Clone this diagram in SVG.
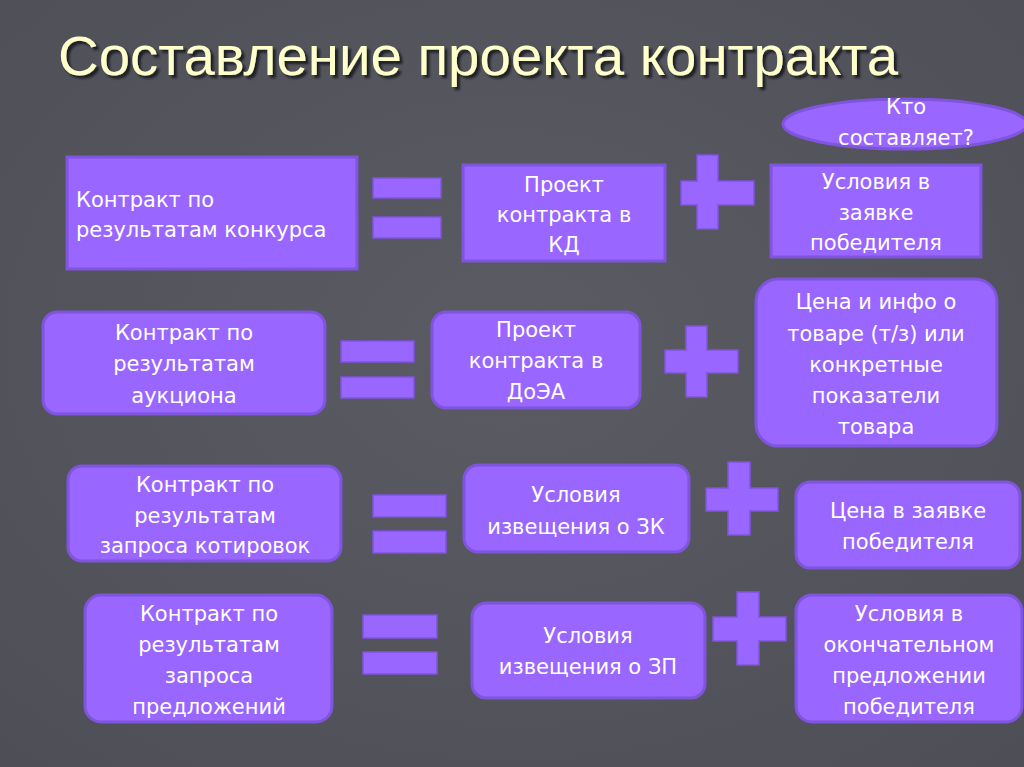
<svg xmlns="http://www.w3.org/2000/svg" width="1024" height="767" viewBox="0 0 1024 767">
<defs>
<style>
.box{fill:#9966ff;stroke:#7f55dd;stroke-width:3}
.bar{fill:#9966ff;stroke:#7f55dd;stroke-width:1.5}
.t{font-family:"DejaVu Sans","Liberation Sans",sans-serif;font-size:21px;fill:#ffffff;text-anchor:middle}
.tl{text-anchor:start}
.title{font-family:"Liberation Sans","DejaVu Sans",sans-serif;font-size:55px;fill:#ffffcc}
</style>
<filter id="sh" x="-5%" y="-30%" width="110%" height="160%">
<feDropShadow dx="3" dy="3" stdDeviation="1.2" flood-color="#15151a" flood-opacity="0.9"/>
</filter>
<radialGradient id="bgg" cx="50%" cy="45%" r="75%">
<stop offset="0" stop-color="#5a5b63"/>
<stop offset="1" stop-color="#4d4e56"/>
</radialGradient>
</defs>
<rect width="1024" height="767" fill="url(#bgg)"/>
<g id="title">
<text class="title" x="58" y="75" textLength="840" lengthAdjust="spacingAndGlyphs" filter="url(#sh)">Составление проекта контракта</text>
</g>
<g id="connectors">
<g id="eq1"><rect class="bar" x="373" y="178" width="68" height="20"/><rect class="bar" x="373" y="217" width="68" height="21"/></g>
<g id="plus1"><rect class="bar" x="681" y="181" width="73" height="24"/><rect class="bar" x="697" y="155" width="21" height="74"/><rect x="682" y="182" width="71" height="22" fill="#9966ff"/></g>
<g id="eq2"><rect class="bar" x="341" y="341" width="73" height="21"/><rect class="bar" x="341" y="377" width="73" height="21"/></g>
<g id="plus2"><rect class="bar" x="665" y="350" width="73" height="23"/><rect class="bar" x="686" y="326" width="21" height="71"/><rect x="666" y="351" width="71" height="21" fill="#9966ff"/></g>
<g id="eq3"><rect class="bar" x="373" y="495" width="73" height="22"/><rect class="bar" x="373" y="531" width="73" height="22"/></g>
<g id="plus3"><rect class="bar" x="706" y="488" width="72" height="23"/><rect class="bar" x="728" y="462" width="22" height="73"/><rect x="707" y="489" width="70" height="21" fill="#9966ff"/></g>
<g id="eq4"><rect class="bar" x="363" y="615" width="74" height="23"/><rect class="bar" x="363" y="652" width="74" height="22"/></g>
<g id="plus4"><rect class="bar" x="713" y="617" width="73" height="24"/><rect class="bar" x="737" y="592" width="22" height="73"/><rect x="714" y="618" width="71" height="22" fill="#9966ff"/></g>
</g>
<g id="oval">
<ellipse cx="905" cy="124" rx="122" ry="25" fill="#9966ff" stroke="#7f55dd" stroke-width="3"/>
<text class="t" x="906" y="114">Кто</text>
<text class="t" x="906" y="145">составляет?</text>
</g>
<g id="a1"><rect class="box" x="67" y="157" width="290" height="112"/>
<text class="t tl" x="76" y="207">Контракт по</text>
<text class="t tl" x="76" y="237">результатам конкурса</text></g>
<g id="b1"><rect class="box" x="463" y="165" width="202" height="96"/>
<text class="t" x="564" y="192">Проект</text>
<text class="t" x="564" y="222">контракта в</text>
<text class="t" x="564" y="252">КД</text></g>
<g id="c1"><rect class="box" x="771" y="165" width="210" height="92"/>
<text class="t" x="876" y="189">Условия в</text>
<text class="t" x="876" y="220">заявке</text>
<text class="t" x="876" y="250">победителя</text></g>
<g id="a2"><rect class="box" x="43" y="312" width="282" height="102" rx="14"/>
<text class="t" x="184" y="340">Контракт по</text>
<text class="t" x="184" y="371">результатам</text>
<text class="t" x="184" y="403">аукциона</text></g>
<g id="b2"><rect class="box" x="432" y="312" width="208" height="96" rx="14"/>
<text class="t" x="536" y="337">Проект</text>
<text class="t" x="536" y="368">контракта в</text>
<text class="t" x="536" y="399">ДоЭА</text></g>
<g id="c2"><rect class="box" x="756" y="279" width="241" height="167" rx="22"/>
<text class="t" x="876" y="309">Цена и инфо о</text>
<text class="t" x="876" y="341">товаре (т/з) или</text>
<text class="t" x="876" y="372">конкретные</text>
<text class="t" x="876" y="403">показатели</text>
<text class="t" x="876" y="434">товара</text></g>
<g id="a3"><rect class="box" x="68" y="466" width="273" height="95" rx="14"/>
<text class="t" x="205" y="492">Контракт по</text>
<text class="t" x="205" y="523">результатам</text>
<text class="t" x="205" y="553">запроса котировок</text></g>
<g id="b3"><rect class="box" x="464" y="465" width="225" height="87" rx="14"/>
<text class="t" x="576" y="502">Условия</text>
<text class="t" x="576" y="534">извещения о ЗК</text></g>
<g id="c3"><rect class="box" x="796" y="482" width="224" height="86" rx="14"/>
<text class="t" x="908" y="518">Цена в заявке</text>
<text class="t" x="908" y="549">победителя</text></g>
<g id="a4"><rect class="box" x="85" y="595" width="247" height="127" rx="16"/>
<text class="t" x="209" y="621">Контракт по</text>
<text class="t" x="209" y="652">результатам</text>
<text class="t" x="209" y="683">запроса</text>
<text class="t" x="209" y="714">предложений</text></g>
<g id="b4"><rect class="box" x="472" y="603" width="233" height="95" rx="14"/>
<text class="t" x="588" y="643">Условия</text>
<text class="t" x="588" y="674">извещения о ЗП</text></g>
<g id="c4"><rect class="box" x="796" y="595" width="226" height="127" rx="16"/>
<text class="t" x="909" y="621">Условия в</text>
<text class="t" x="909" y="652">окончательном</text>
<text class="t" x="909" y="683">предложении</text>
<text class="t" x="909" y="714">победителя</text></g>
</svg>
